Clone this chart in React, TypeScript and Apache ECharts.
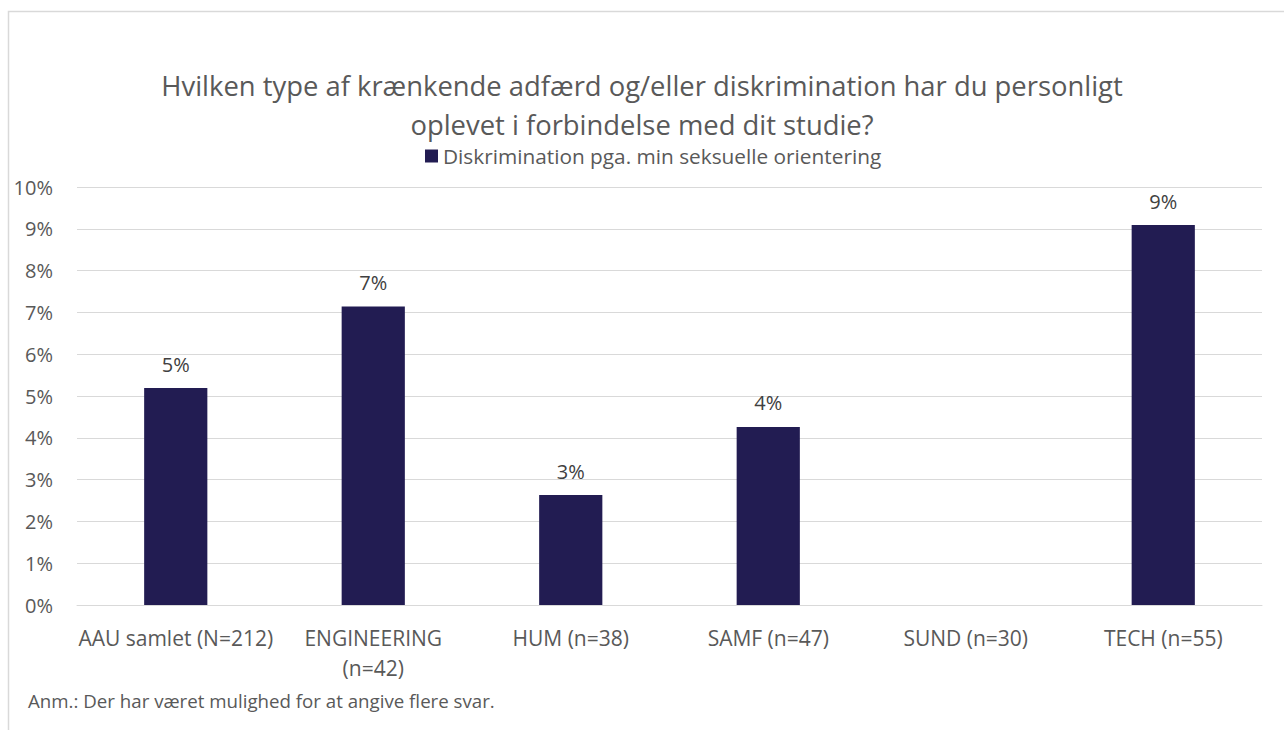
import React, { useEffect, useRef } from "react";
import * as echarts from "echarts";

const titleLines = [
  "Hvilken type af krænkende adfærd og/eller diskrimination har du personligt",
  "oplevet i forbindelse med dit studie?",
];
const seriesName = "Diskrimination pga. min seksuelle orientering";
const categories = [
  "AAU samlet (N=212)",
  "ENGINEERING\n(n=42)",
  "HUM (n=38)",
  "SAMF (n=47)",
  "SUND (n=30)",
  "TECH (n=55)",
];
const values = [5.19, 7.14, 2.63, 4.26, 0, 9.09];
const noteText = "Anm.: Der har været mulighed for at angive flere svar.";

const FONT = "'Open Sans', 'Noto Sans', sans-serif";

export default function App() {
  const ref = useRef<HTMLDivElement>(null);
  useEffect(() => {
    if (!ref.current) return;
    const chart = echarts.init(ref.current, undefined, { renderer: "svg" });
    chart.setOption({
      animation: false,
      backgroundColor: "#ffffff",
      textStyle: { fontFamily: FONT },
      legend: {
        data: [seriesName],
        left: 425,
        top: 144,
        icon: "rect",
        itemWidth: 13,
        itemHeight: 13,
        itemGap: 5,
        padding: 0,
        textStyle: { fontFamily: FONT, fontSize: 20.8, color: "#595959", lineHeight: 24 },
      },
      grid: { left: 77, right: 22, top: 187, bottom: 125, containLabel: false },
      xAxis: {
        type: "category",
        data: categories,
        axisLine: { show: true, lineStyle: { color: "#d9d9d9", width: 1 } },
        axisTick: { show: false },
        axisLabel: {
          fontFamily: FONT,
          fontSize: 21,
          color: "#595959",
          margin: 18,
          lineHeight: 30,
          interval: 0,
        },
      },
      yAxis: {
        type: "value",
        min: 0,
        max: 10,
        interval: 1,
        axisLine: { show: false },
        axisTick: { show: false },
        splitLine: { lineStyle: { color: "#d9d9d9", width: 1 } },
        axisLabel: {
          fontFamily: FONT,
          fontSize: 20,
          color: "#595959",
          margin: 24,
          formatter: (v: number) => `${v}%`,
        },
      },
      series: [
        {
          name: seriesName,
          type: "bar",
          data: values,
          barWidth: "32%",
          itemStyle: { color: "#221c52" },
          label: {
            show: true,
            position: "top",
            distance: 14,
            fontFamily: FONT,
            fontSize: 20,
            color: "#404040",
            formatter: (p: any) => (p.value ? `${Math.round(p.value)}%` : ""),
          },
        },
      ],
      graphic: [
        {
          type: "rect",
          shape: { x: 8.5, y: 11.5, width: 1400, height: 800 },
          style: { fill: "none", stroke: "#d9d9d9", lineWidth: 1.5 },
          silent: true,
        },
        {
          type: "text",
          x: 642,
          y: 85,
          style: {
            text: titleLines[0],
            fontFamily: FONT,
            fontSize: 27.4,
            fill: "#595959",
            align: "center",
            verticalAlign: "middle",
          },
        },
        {
          type: "text",
          x: 642,
          y: 124,
          style: {
            text: titleLines[1],
            fontFamily: FONT,
            fontSize: 27.4,
            fill: "#595959",
            align: "center",
            verticalAlign: "middle",
          },
        },
        {
          type: "text",
          x: 28,
          y: 700,
          style: {
            text: noteText,
            fontFamily: FONT,
            fontSize: 18.7,
            fill: "#595959",
            verticalAlign: "middle",
          },
        },
      ],
    });
    return () => chart.dispose();
  }, []);
  return (
    <div
      ref={ref}
      style={{ position: "fixed", left: 0, top: 0, width: 1284, height: 730 }}
    />
  );
}
